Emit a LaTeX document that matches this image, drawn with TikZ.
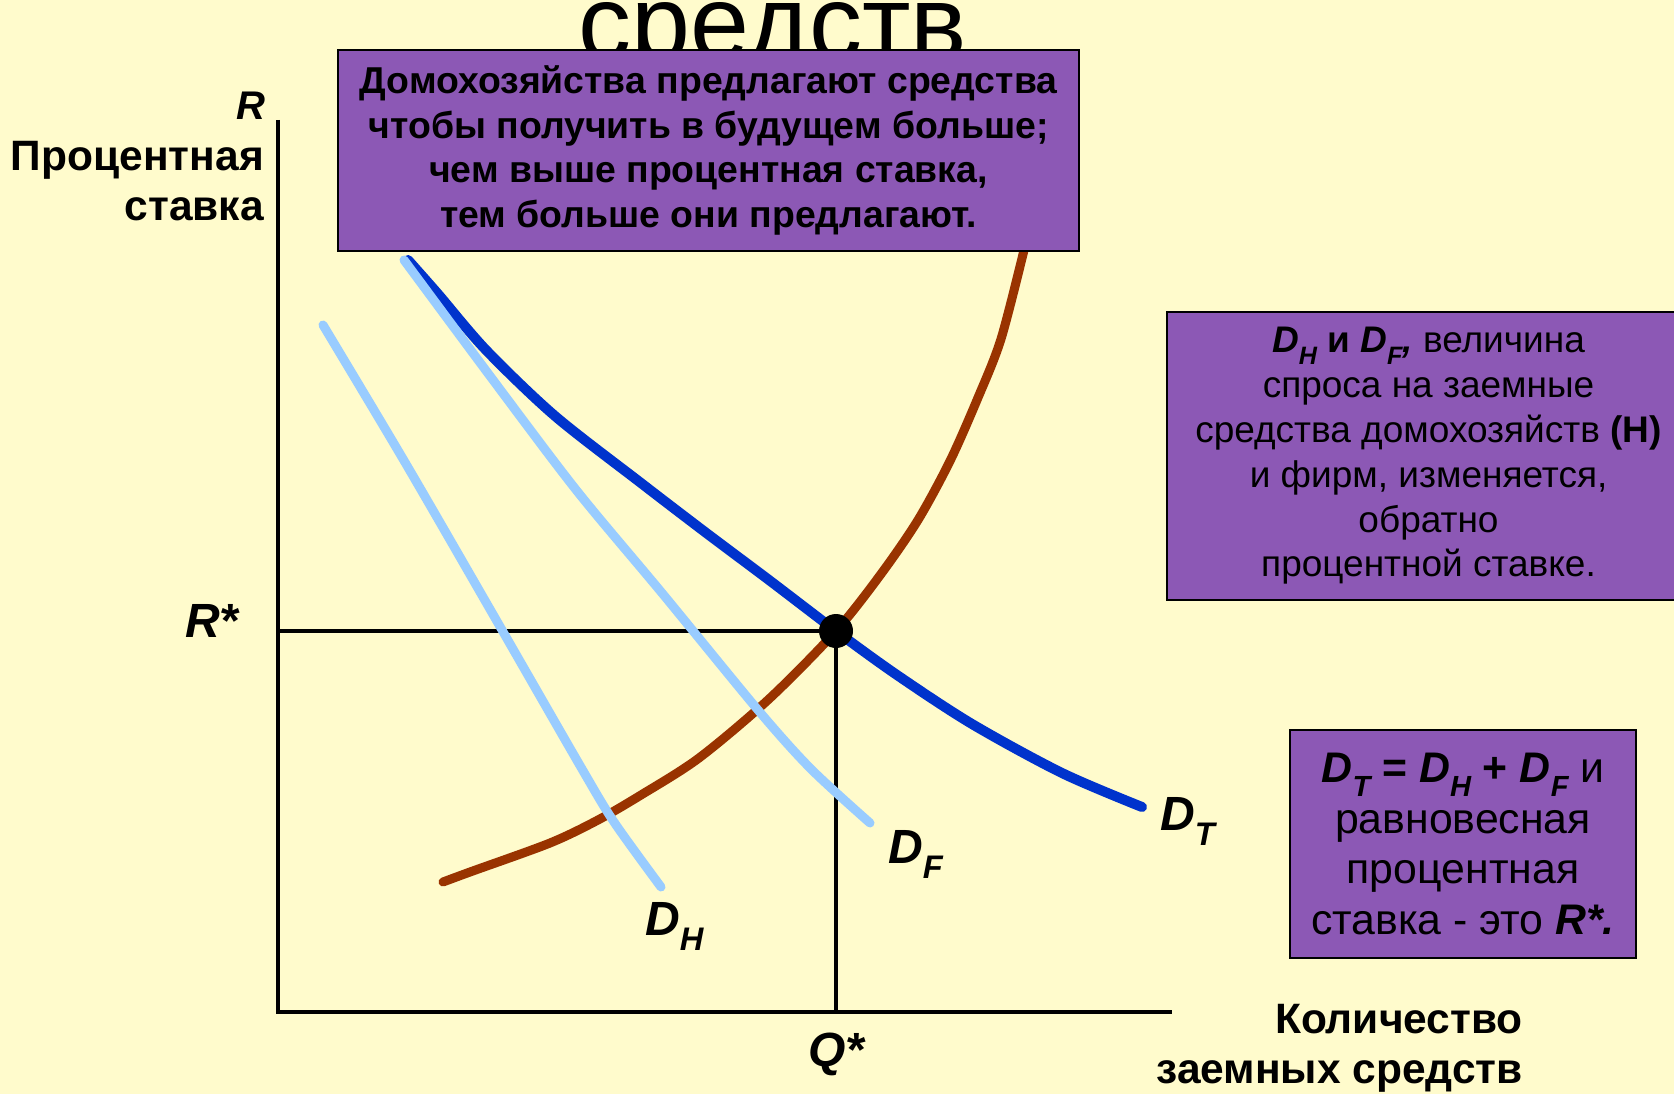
\documentclass[tikz,border=0pt]{standalone}
\usepackage{fontspec}
\setmainfont{Liberation Sans}
\usetikzlibrary{positioning}
\definecolor{paper}{HTML}{FFFBCC}
\definecolor{boxviolet}{HTML}{8C58B5}
\definecolor{supplybrown}{HTML}{993300}
\definecolor{totalblue}{HTML}{0033CC}
\definecolor{partblue}{HTML}{99CCFF}
\newcommand{\lsub}[1]{\raisebox{-0.32em}{\scalebox{0.68}{#1}}}
\newcommand{\fsz}[2]{\fontsize{#1}{#2}\selectfont}

\begin{document}
\begin{tikzpicture}[x=1pt,y=-1pt,
  infobox/.style={draw=black,line width=2.5pt,fill=boxviolet,align=center,inner sep=0pt},
  axis/.style={line width=4.5pt},
  guide/.style={line width=4pt},
  curve/.style={line width=9pt,line cap=round,line join=round},
  dlabel/.style={font=\fsz{48}{50}\bfseries\itshape,inner sep=0pt,anchor=base west},
  axlabel/.style={font=\fsz{42.5}{50}\bfseries,align=right,inner sep=0pt,anchor=east}
]
\fill[paper] (0,0) rectangle (1674,1094);
\useasboundingbox (0,0) rectangle (1674,1094);

% title left over from the slide
\node[font=\fsz{106}{110},inner sep=0pt,anchor=base] (title) at (773,60) {средств};

% axes
\coordinate (origin) at (278,1012);
\coordinate (ytop) at (278,120);
\coordinate (xend) at (1172,1012);
\coordinate (eq) at (836,631);
\draw[axis] (ytop) -- (origin) -- (xend);
\draw[guide] (origin |- eq) -- (eq);
\draw[guide] (eq) -- (eq |- origin);

% supply
\draw[curve,supplybrown] plot[smooth] coordinates {
  (443,882) (470,872) (550,843) (598,820) (641,795) (699,758) (769,699)
  (836,631) (881,574) (918,520) (950,461) (977,400) (1001,339) (1025,246)};
% total demand
\draw[curve,totalblue,line width=10pt] plot[smooth] coordinates {
  (408,260) (438,294) (486,350) (555,416) (641,483) (705,532) (769,580)
  (836,631) (897,675) (972,724) (1062,773) (1142,807)};
% firms and households
\draw[curve,partblue] plot[smooth] coordinates {
  (404,260) (496,384) (577,491) (662,593) (758,710) (811,769) (870,823)};
\draw[curve,partblue] plot[smooth] coordinates {
  (323,325) (406,464) (502,630) (582,769) (614,822) (661,887)};

\fill (eq) circle (17);

% labels
\node[dlabel] (lt) at (1160,830) {D\lsub{T}};
\node[dlabel] (lf) at (888,863) {D\lsub{F}};
\node[dlabel] (lh) at (645,935) {D\lsub{H}};
\node[dlabel] (rstar) at (185,637) {R*};
\node[dlabel] (qstar) at (808,1066) {Q*};
\node[dlabel,font=\fsz{40}{44}\bfseries\itshape] (rtop) at (236,120) {R};
\node[axlabel] (ylab) at (264,181) {Процентная\\ставка};
\node[axlabel] (xlab) at (1523,1048) {Количество\\заемных средств};

% info boxes
\node[infobox,minimum width=741,minimum height=201,font=\fsz{37.4}{44.8}\bfseries]
  (supplybox) at (708.5,150.5)
  {Домохозяйства предлагают средства\\чтобы получить в будущем больше;\\
   чем выше процентная ставка,\\тем больше они предлагают.};
\node[infobox,minimum width=523,minimum height=288,font=\fsz{37}{44.8}]
  (demandbox) at (1428.5,456)
  {{\bfseries\itshape D\lsub{H} \upshape и \itshape D\lsub{F},} величина\\
   спроса на заемные\\средства домохозяйств \textbf{(Н)}\\
   и фирм, изменяется,\\обратно\\процентной ставке.};
\node[infobox,minimum width=346,minimum height=228,font=\fsz{42.8}{50.7}]
  (sumbox) at (1463,844)
  {{\bfseries\itshape D\lsub{T} \upshape= \itshape D\lsub{H} \upshape+ \itshape D\lsub{F}} и\\
   равновесная\\процентная\\ставка - это \textbf{\textit{R*.}}};
\end{tikzpicture}
\end{document}
